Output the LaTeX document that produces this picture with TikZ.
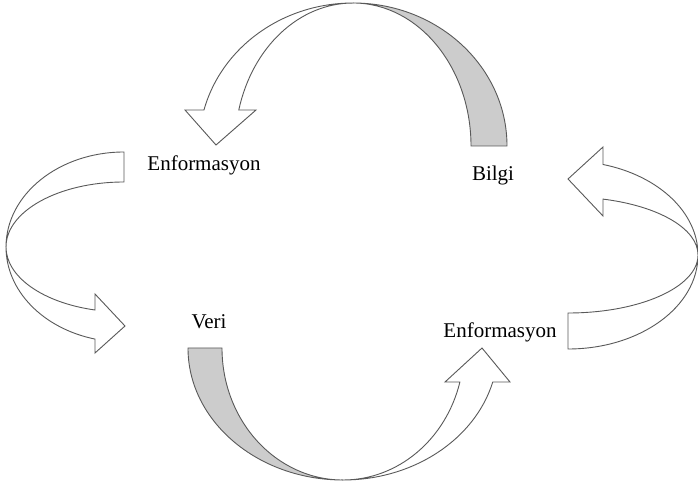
\documentclass[tikz,border=0pt]{standalone}
\usepackage{fontspec}
\setmainfont{Liberation Serif}
\begin{document}
\begin{tikzpicture}[x=1pt,y=1pt,
  shapeline/.style={draw=black!65,line width=0.9pt,line join=miter},
  backband/.style={shapeline,fill=black!20},
  frontarrow/.style={shapeline,fill=white},
  lbl/.style={font=\fontsize{21}{24}\selectfont,anchor=base,inner sep=0pt}]
\useasboundingbox (0,0) rectangle (698,487);
% top arrow
\path[backband] (507,341) arc[start angle=0,end angle=90,x radius=154,y radius=143]
  arc[start angle=90,end angle=0,x radius=118,y radius=143] -- cycle;
\path[frontarrow] (353,484) arc[start angle=90,end angle=165.4,x radius=154,y radius=143]
  -- (185,377) -- (216,342) -- (256,377) -- (238.8,377)
  arc[start angle=165.4,end angle=90,x radius=118,y radius=143] -- cycle;
% bottom arrow
\path[backband] (188,139) arc[start angle=180,end angle=270,x radius=155,y radius=132]
  arc[start angle=270,end angle=180,x radius=121,y radius=132] -- cycle;
\path[frontarrow] (343,7) arc[start angle=270,end angle=345.07,x radius=155,y radius=132]
  -- (510,105) -- (482,139) -- (445,105) -- (459.9,105)
  arc[start angle=345.07,end angle=270,x radius=121,y radius=132] -- cycle;
% left arrow
\path[frontarrow] (124,335) arc[start angle=90,end angle=180,x radius=118,y radius=95]
  arc[start angle=180,end angle=90,x radius=118,y radius=65] -- cycle;
\path[frontarrow] (6,240) arc[start angle=180,end angle=255.77,x radius=118,y radius=95]
  -- (95,134) -- (125,161) -- (95,193) -- (95,177)
  arc[start angle=255.77,end angle=180,x radius=118,y radius=65] -- cycle;
% right arrow
\path[frontarrow] (568,138) arc[start angle=270,end angle=360,x radius=130,y radius=94]
  arc[start angle=360,end angle=270,x radius=130,y radius=58] -- cycle;
\path[frontarrow] (698,232) arc[start angle=0,end angle=74.38,x radius=130,y radius=94]
  -- (603,340) -- (568,308) -- (603,271) -- (603,287.9)
  arc[start angle=74.38,end angle=0,x radius=130,y radius=58] -- cycle;
% labels
\node[lbl] (enf1) at (204,316) {Enformasyon};
\node[lbl] (bilgi) at (493,306) {Bilgi};
\node[lbl] (veri) at (209,158) {Veri};
\node[lbl] (enf2) at (500,149) {Enformasyon};
\end{tikzpicture}
\end{document}
